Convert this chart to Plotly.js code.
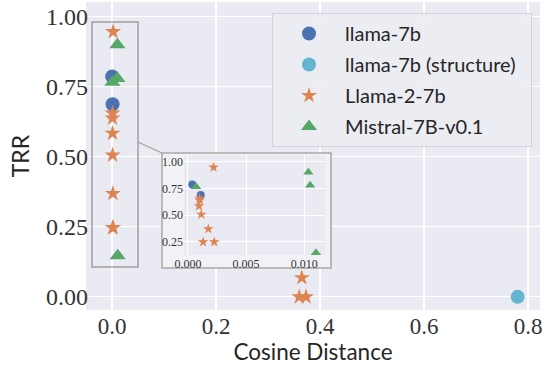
<!DOCTYPE html>
<html>
<head>
<meta charset="utf-8">
<script src="https://cdn.plot.ly/plotly-3.0.1.min.js"></script>
<style>html,body{margin:0;padding:0;background:#fff;}#chart{width:546px;height:365px;}</style>
</head>
<body>
<div id="chart"></div>
<script>
// ---- data ----
const llama7bX = [0.00037, 0.0011];
const llama7bY = [0.787, 0.688];
const structX = [0.78];
const structY = [0.0];
const llama2X = [0.0022, 0.001, 0.001, 0.00095, 0.00115, 0.00175, 0.0013, 0.00226, 0.365, 0.360, 0.373];
const llama2Y = [0.947, 0.656, 0.638, 0.584, 0.506, 0.369, 0.247, 0.247, 0.068, 0.0, 0.0];
const mistralX = [0.01035, 0.0105, 0.0007, 0.011];
const mistralY = [0.90, 0.78, 0.766, 0.147];
const names = ['llama-7b', 'llama-7b (structure)\u00a0\u00a0', 'Llama-2-7b', 'Mistral-7B-v0.1'];
const colors = ['#4c72b0', '#64b5cd', '#dd8452', '#55a868'];
const mainTicksX = [0, 0.2, 0.4, 0.6, 0.8];
const mainTicksY = [0, 0.25, 0.5, 0.75, 1.0];
const insetTicksX = [0, 0.005, 0.01];
const insetTicksY = [0.25, 0.5, 0.75, 1.0];

// ---- geometry ----
const W = 546, H = 365;
const M = {l: 86, r: 6, t: 2, b: 55};
const xr = [-0.05, 0.823], yr = [-0.047, 1.053];
const pw = W - M.l - M.r, ph = H - M.t - M.b;
const px2x = px => xr[0] + (px - M.l) / pw * (xr[1] - xr[0]);
const py2y = py => yr[0] + (H - M.b - py) / ph * (yr[1] - yr[0]);
const pxp = px => (px - M.l) / pw;
const pyp = py => (H - M.b - py) / ph;

const serif = "'Liberation Serif', 'DejaVu Serif', serif";
const sans = 'Lato';

const sets = [
  [llama7bX, llama7bY, 'circle', 14, 8],
  [structX, structY, 'circle', 14, 8],
  [llama2X, llama2Y, 'star', 12, 8],
  [mistralX, mistralY, 'triangle-up', 14, 9]
];
const traces = [];
sets.forEach((s, i) => {
  traces.push({
    x: s[0], y: s[1], type: 'scatter', mode: 'markers', name: names[i],
    legendgroup: 'g' + i, xaxis: 'x', yaxis: 'y',
    marker: {color: colors[i], symbol: s[2], size: s[3], line: {width: 0}},
    cliponaxis: false
  });
});
sets.forEach((s, i) => {
  traces.push({
    x: s[0], y: s[1], type: 'scatter', mode: 'markers', name: names[i],
    legendgroup: 'g' + i, showlegend: false, xaxis: 'x2', yaxis: 'y2',
    marker: {color: colors[i], symbol: s[2], size: s[4], line: {width: 0}},
    cliponaxis: true
  });
});

const layout = {
  width: W, height: H,
  margin: M,
  paper_bgcolor: '#ffffff',
  plot_bgcolor: '#eaeaf2',
  showlegend: true,
  xaxis: {
    domain: [0, 1], range: xr, tickvals: mainTicksX, ticktext: ['0.0', '0.2', '0.4', '0.6', '0.8'],
    showgrid: true, gridcolor: '#ffffff', gridwidth: 1.2, zeroline: false, showline: false,
    ticks: '', tickfont: {family: serif, size: 23, color: '#333333'},
    title: {text: 'Cosine Distance', font: {family: sans, size: 22.5, color: '#262626'}, standoff: 7},
    automargin: false
  },
  yaxis: {
    domain: [0, 1], range: yr, tickvals: mainTicksY, ticktext: ['0.00', '0.25', '0.50', '0.75', '1.00'],
    showgrid: true, gridcolor: '#ffffff', gridwidth: 1.2, zeroline: false, showline: false,
    ticks: '', tickfont: {family: serif, size: 24, color: '#333333'}, ticklabelstandoff: -3,
    title: {text: 'TRR', font: {family: sans, size: 23, color: '#262626'}, standoff: 9},
    automargin: false
  },
  xaxis2: {
    domain: [pxp(184), pxp(325)], anchor: 'y2', range: [-0.00034, 0.01178],
    tickvals: insetTicksX, ticktext: ['0.000', '0.005', '0.010'],
    showgrid: true, gridcolor: '#ffffff', gridwidth: 1, zeroline: false, showline: false,
    ticks: '', tickfont: {family: serif, size: 12, color: '#333333'}, automargin: false
  },
  yaxis2: {
    domain: [pyp(255), pyp(155)], anchor: 'x2', range: [0.125, 1.0625],
    tickvals: insetTicksY, ticktext: ['0.25', '0.50', '0.75', '1.00'],
    showgrid: true, gridcolor: '#ffffff', gridwidth: 1, zeroline: false, showline: false,
    ticks: '', tickfont: {family: serif, size: 12, color: '#333333'}, automargin: false
  },
  legend: {
    x: pxp(272), y: pyp(13), xanchor: 'left', yanchor: 'top',
    bgcolor: 'rgba(236,236,243,0.9)', bordercolor: '#d3d3dc', borderwidth: 1,
    font: {family: sans, size: 20, color: '#262626'},
    tracegroupgap: 2, itemsizing: 'trace', itemwidth: 62
  },
  shapes: [
    {type: 'rect', xref: 'x', yref: 'y', layer: 'between',
     x0: px2x(162), x1: px2x(331), y0: py2y(268), y1: py2y(153),
     fillcolor: '#f2f2f6', line: {color: '#a8a8a8', width: 1.5}},
    {type: 'rect', xref: 'x', yref: 'y', layer: 'between',
     x0: px2x(184), x1: px2x(325), y0: py2y(255), y1: py2y(155),
     fillcolor: '#eaeaf2', line: {width: 0}},
    {type: 'rect', xref: 'paper', yref: 'paper', layer: 'above',
     x0: pxp(92), x1: pxp(138), y0: pyp(267), y1: pyp(22),
     fillcolor: 'rgba(0,0,0,0)', line: {color: '#a0a0a0', width: 1.5}},
    {type: 'line', xref: 'paper', yref: 'paper', layer: 'above',
     x0: pxp(138), y0: pyp(142), x1: pxp(162), y1: pyp(153),
     line: {color: '#a0a0a0', width: 1.2}}
  ]
};

Plotly.newPlot('chart', traces, layout, {staticPlot: true, displayModeBar: false});
</script>
</body>
</html>
